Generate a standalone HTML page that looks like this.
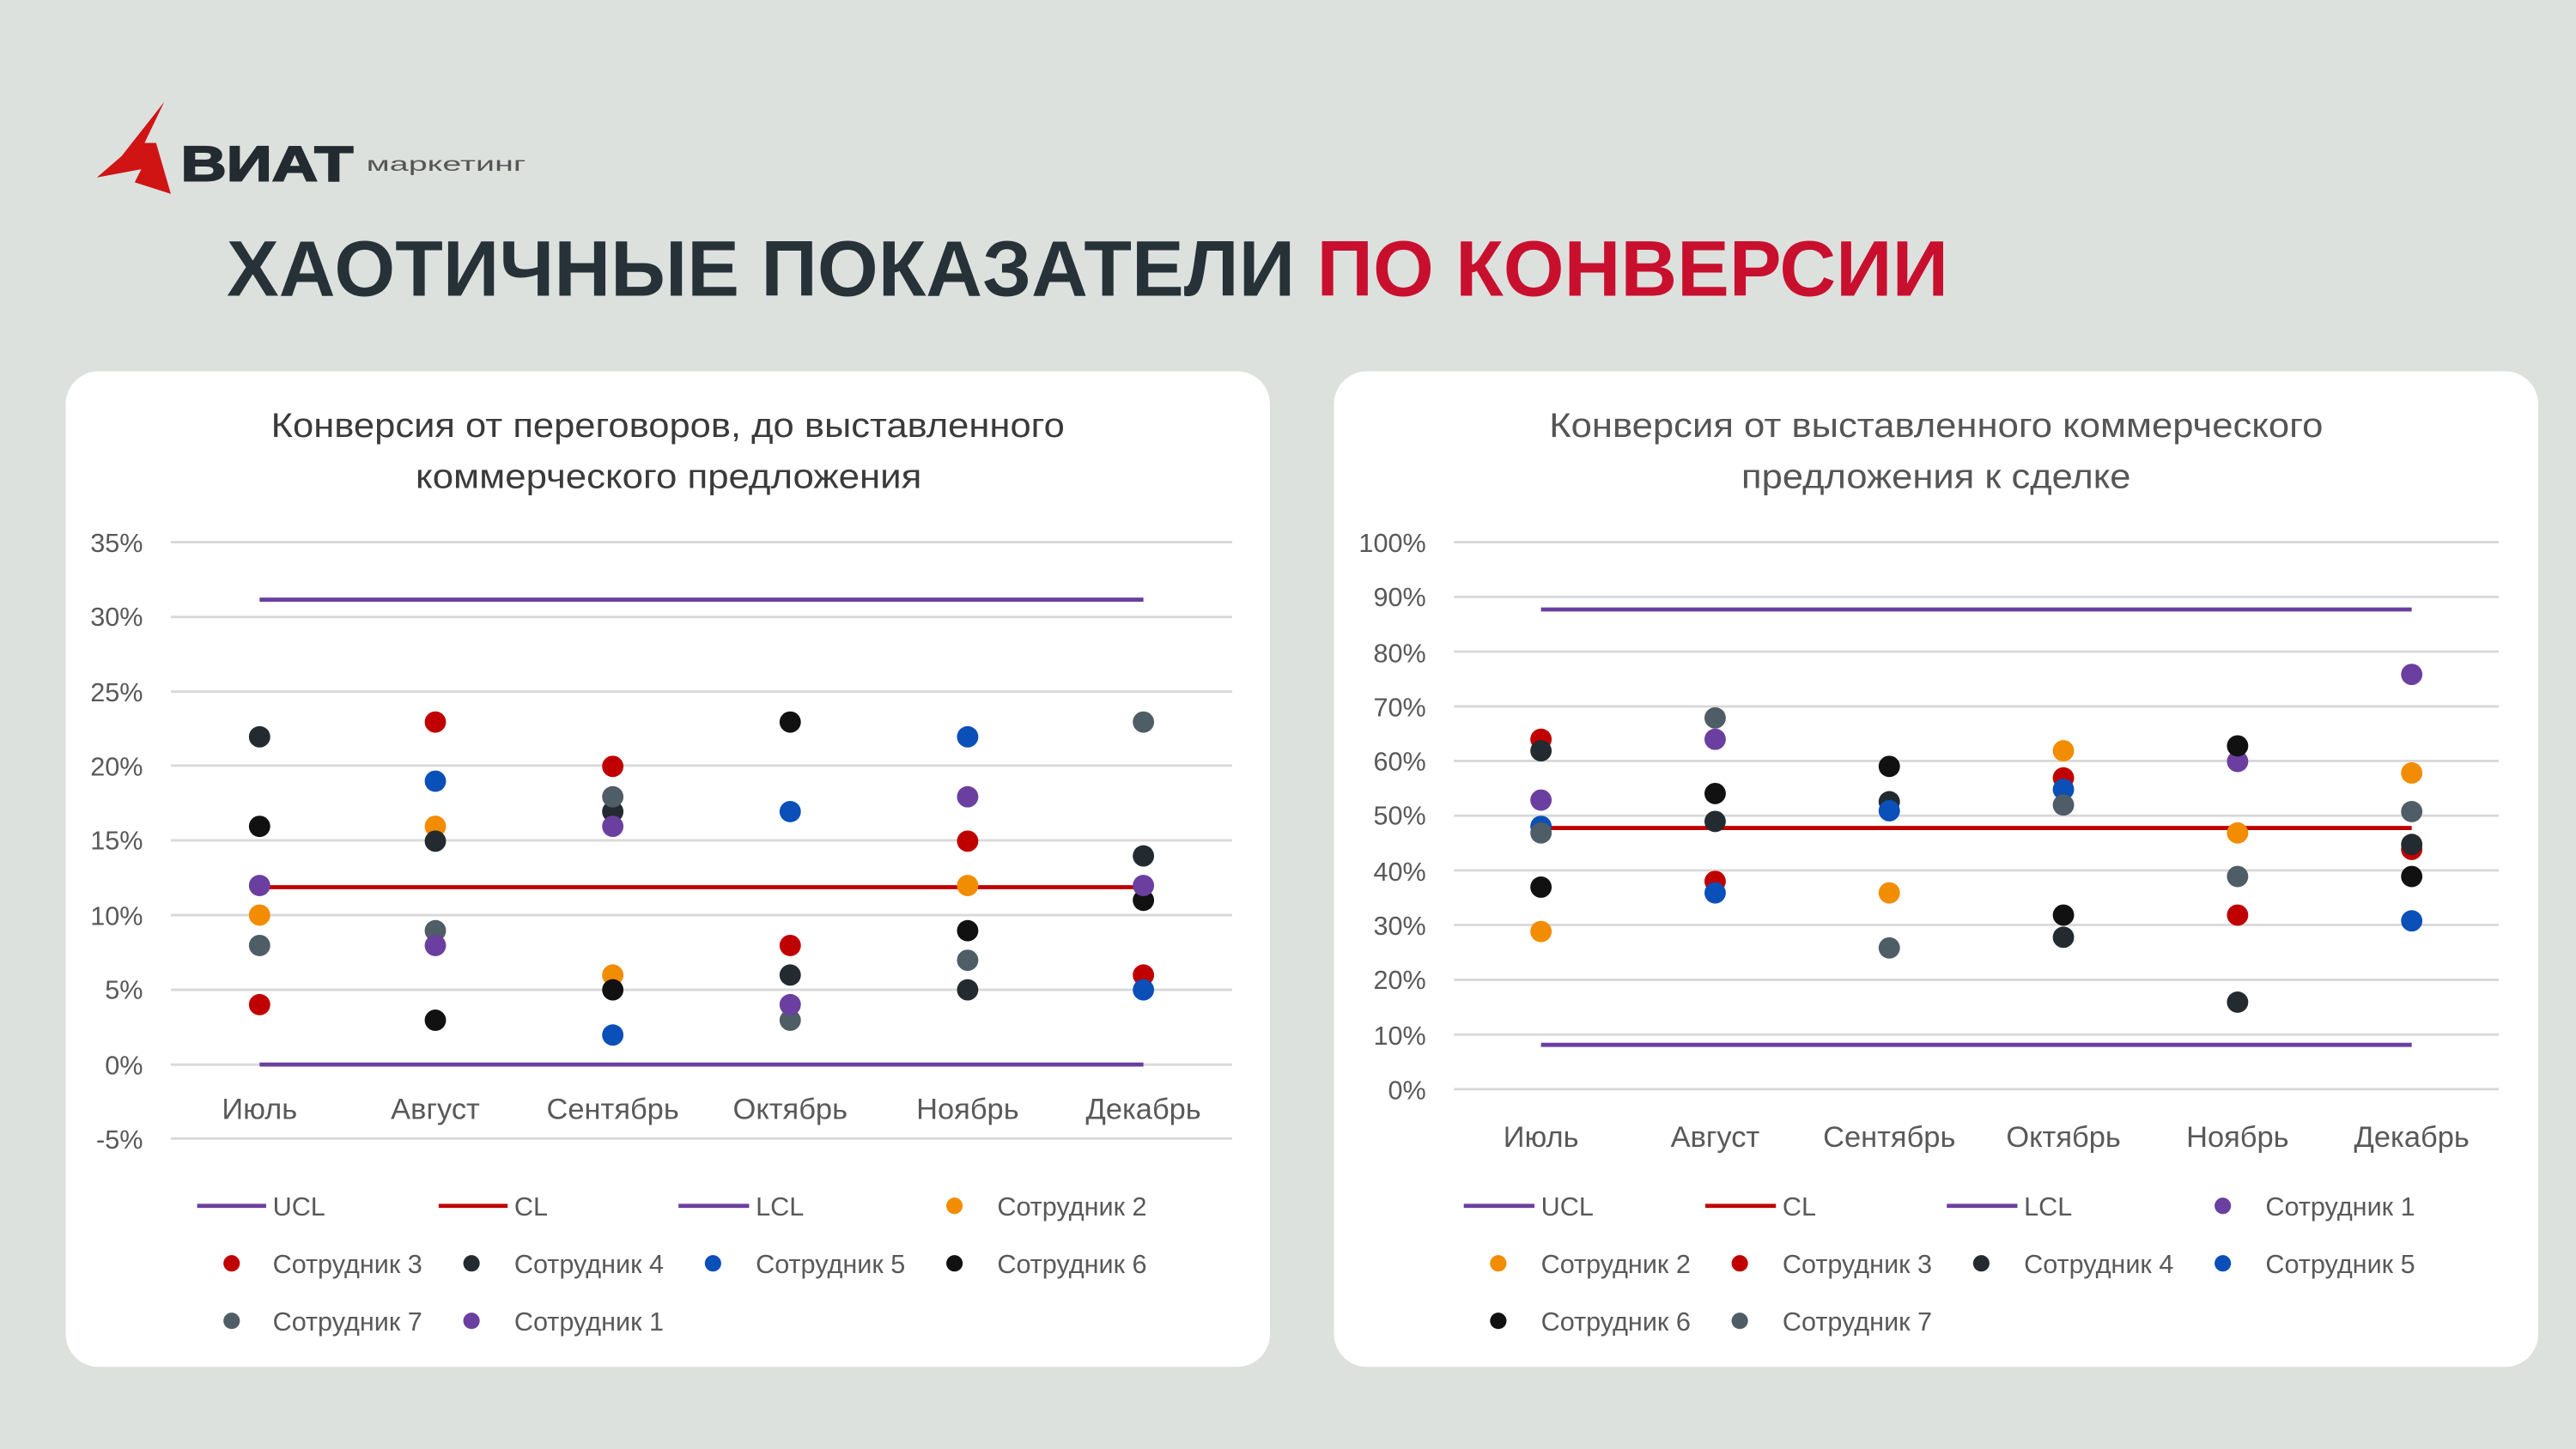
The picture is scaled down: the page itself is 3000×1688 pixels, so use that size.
<!DOCTYPE html>
<html><head><meta charset="utf-8"><style>
html,body{margin:0;padding:0;background:#dde1de;}
svg{display:block}
text{font-family:"Liberation Sans","DejaVu Sans",sans-serif;}
.ax{font-size:16px;fill:#595959}
.lg{font-size:16px;fill:#595959}
.tt{font-size:21px;fill:#3a3a3a}
.g{stroke:#d9d9d9;stroke-width:1.5}
.o{fill:#f28c00}.r{fill:#c00000}.b{fill:#0b4fb8}.p{fill:#6b3fa0}.s{fill:#4f5d66}.d{fill:#232b30}.k{fill:#111}
</style></head><body>
<svg width="3000" height="1688" viewBox="0 0 1568 882" preserveAspectRatio="none">
<rect width="1568" height="882" fill="#dde1de"/>
<polygon points="100,62 74,95 59,108 86,103 82,111 104,118 95,87 88,87" fill="#d01414"/>
<text x="110" y="110" font-size="30" font-weight="900" fill="#232b30" textLength="105" lengthAdjust="spacingAndGlyphs" stroke="#232b30" stroke-width="1">ВИАТ</text>
<text x="223" y="104" font-size="12" fill="#555" textLength="97" lengthAdjust="spacingAndGlyphs">маркетинг</text>
<text x="138" y="180" font-size="48" font-weight="bold" fill="#263238" textLength="1048" lengthAdjust="spacingAndGlyphs">ХАОТИЧНЫЕ ПОКАЗАТЕЛИ <tspan fill="#c8102e">ПО КОНВЕРСИИ</tspan></text>

<rect x="40" y="226" width="733" height="606" rx="20" fill="#fff"/>
<text class="tt" x="165" y="266" textLength="483" lengthAdjust="spacingAndGlyphs">Конверсия от переговоров, до выставленного</text>
<text class="tt" x="253" y="297" textLength="308" lengthAdjust="spacingAndGlyphs">коммерческого предложения</text>
<g class="g">
<line x1="104" x2="750" y1="330" y2="330"/><line x1="104" x2="750" y1="375.5" y2="375.5"/><line x1="104" x2="750" y1="421" y2="421"/><line x1="104" x2="750" y1="466" y2="466"/><line x1="104" x2="750" y1="511.5" y2="511.5"/><line x1="104" x2="750" y1="557" y2="557"/><line x1="104" x2="750" y1="602.5" y2="602.5"/><line x1="104" x2="750" y1="648" y2="648"/><line x1="104" x2="750" y1="693" y2="693"/>
</g>
<g class="ax" text-anchor="end">
<text x="87" y="336">35%</text><text x="87" y="381">30%</text><text x="87" y="427">25%</text><text x="87" y="472">20%</text><text x="87" y="517">15%</text><text x="87" y="563">10%</text><text x="87" y="608">5%</text><text x="87" y="654">0%</text><text x="87" y="699">-5%</text>
</g>
<g class="ax" text-anchor="middle" style="font-size:18px">
<text x="158" y="681">Июль</text><text x="265" y="681">Август</text><text x="373" y="681">Сентябрь</text><text x="481" y="681">Октябрь</text><text x="589" y="681">Ноябрь</text><text x="696" y="681">Декабрь</text>
</g>
<line x1="158" x2="696" y1="365" y2="365" stroke="#6b3fa0" stroke-width="2.5"/>
<line x1="158" x2="696" y1="540" y2="540" stroke="#c00000" stroke-width="2.5"/>
<line x1="158" x2="696" y1="648" y2="648" stroke="#6b3fa0" stroke-width="2.5"/>
<g>
<circle class="d" cx="158" cy="448.5" r="6.5"/><circle class="k" cx="158" cy="503" r="6.5"/><circle class="p" cx="158" cy="539" r="6.5"/><circle class="o" cx="158" cy="557" r="6.5"/><circle class="s" cx="158" cy="575.5" r="6.5"/><circle class="r" cx="158" cy="611.5" r="6.5"/>
<circle class="r" cx="265" cy="439.5" r="6.5"/><circle class="b" cx="265" cy="475.5" r="6.5"/><circle class="o" cx="265" cy="503" r="6.5"/><circle class="d" cx="265" cy="512" r="6.5"/><circle class="s" cx="265" cy="566.5" r="6.5"/><circle class="p" cx="265" cy="575.5" r="6.5"/><circle class="k" cx="265" cy="621" r="6.5"/>
<circle class="r" cx="373" cy="466.5" r="6.5"/><circle class="d" cx="373" cy="494" r="6.5"/><circle class="s" cx="373" cy="485" r="6.5"/><circle class="p" cx="373" cy="503" r="6.5"/><circle class="o" cx="373" cy="593.5" r="6.5"/><circle class="k" cx="373" cy="602.5" r="6.5"/><circle class="b" cx="373" cy="630" r="6.5"/>
<circle class="k" cx="481" cy="439.5" r="6.5"/><circle class="b" cx="481" cy="494" r="6.5"/><circle class="r" cx="481" cy="575.5" r="6.5"/><circle class="d" cx="481" cy="593.5" r="6.5"/><circle class="s" cx="481" cy="621" r="6.5"/><circle class="p" cx="481" cy="611.5" r="6.5"/>
<circle class="b" cx="589" cy="448.5" r="6.5"/><circle class="p" cx="589" cy="485" r="6.5"/><circle class="r" cx="589" cy="512" r="6.5"/><circle class="o" cx="589" cy="539" r="6.5"/><circle class="k" cx="589" cy="566.5" r="6.5"/><circle class="s" cx="589" cy="584.5" r="6.5"/><circle class="d" cx="589" cy="602.5" r="6.5"/>
<circle class="s" cx="696" cy="439.5" r="6.5"/><circle class="d" cx="696" cy="521" r="6.5"/><circle class="k" cx="696" cy="548" r="6.5"/><circle class="p" cx="696" cy="539" r="6.5"/><circle class="r" cx="696" cy="593.5" r="6.5"/><circle class="b" cx="696" cy="602.5" r="6.5"/>
</g>
<g class="lg">
<line x1="120" x2="162" y1="734" y2="734" stroke="#6b3fa0" stroke-width="2.5"/><text x="166" y="740">UCL</text>
<line x1="267" x2="309" y1="734" y2="734" stroke="#c00000" stroke-width="2.5"/><text x="313" y="740">CL</text>
<line x1="413" x2="456" y1="734" y2="734" stroke="#6b3fa0" stroke-width="2.5"/><text x="460" y="740">LCL</text>
<circle class="o" cx="581" cy="734" r="5"/><text x="607" y="740">Сотрудник 2</text>
<circle class="r" cx="141" cy="769" r="5"/><text x="166" y="775">Сотрудник 3</text>
<circle class="d" cx="287" cy="769" r="5"/><text x="313" y="775">Сотрудник 4</text>
<circle class="b" cx="434" cy="769" r="5"/><text x="460" y="775">Сотрудник 5</text>
<circle class="k" cx="581" cy="769" r="5"/><text x="607" y="775">Сотрудник 6</text>
<circle class="s" cx="141" cy="804" r="5"/><text x="166" y="810">Сотрудник 7</text>
<circle class="p" cx="287" cy="804" r="5"/><text x="313" y="810">Сотрудник 1</text>
</g>

<rect x="812" y="226" width="733" height="606" rx="20" fill="#fff"/>
<text class="tt" x="943" y="266" style="fill:#555" textLength="471" lengthAdjust="spacingAndGlyphs">Конверсия от выставленного коммерческого</text>
<text class="tt" x="1060" y="297" style="fill:#555" textLength="237" lengthAdjust="spacingAndGlyphs">предложения к сделке</text>
<g class="g">
<line x1="885" x2="1521" y1="330" y2="330"/><line x1="885" x2="1521" y1="363.3" y2="363.3"/><line x1="885" x2="1521" y1="396.6" y2="396.6"/><line x1="885" x2="1521" y1="430" y2="430"/><line x1="885" x2="1521" y1="463.2" y2="463.2"/><line x1="885" x2="1521" y1="496.5" y2="496.5"/><line x1="885" x2="1521" y1="529.8" y2="529.8"/><line x1="885" x2="1521" y1="563" y2="563"/><line x1="885" x2="1521" y1="596.4" y2="596.4"/><line x1="885" x2="1521" y1="629.7" y2="629.7"/><line x1="885" x2="1521" y1="663" y2="663"/>
</g>
<g class="ax" text-anchor="end">
<text x="868" y="336">100%</text><text x="868" y="369">90%</text><text x="868" y="403">80%</text><text x="868" y="436">70%</text><text x="868" y="469">60%</text><text x="868" y="502">50%</text><text x="868" y="536">40%</text><text x="868" y="569">30%</text><text x="868" y="602">20%</text><text x="868" y="636">10%</text><text x="868" y="669">0%</text>
</g>
<g class="ax" text-anchor="middle" style="font-size:18px">
<text x="938" y="698">Июль</text><text x="1044" y="698">Август</text><text x="1150" y="698">Сентябрь</text><text x="1256" y="698">Октябрь</text><text x="1362" y="698">Ноябрь</text><text x="1468" y="698">Декабрь</text>
</g>
<line x1="938" x2="1468" y1="371" y2="371" stroke="#6b3fa0" stroke-width="2.5"/>
<line x1="938" x2="1468" y1="504" y2="504" stroke="#c00000" stroke-width="2.5"/>
<line x1="938" x2="1468" y1="636" y2="636" stroke="#6b3fa0" stroke-width="2.5"/>
<g>
<circle class="r" cx="938" cy="450" r="6.5"/><circle class="d" cx="938" cy="457" r="6.5"/><circle class="p" cx="938" cy="487" r="6.5"/><circle class="b" cx="938" cy="503" r="6.5"/><circle class="s" cx="938" cy="507" r="6.5"/><circle class="k" cx="938" cy="540" r="6.5"/><circle class="o" cx="938" cy="567" r="6.5"/>
<circle class="s" cx="1044" cy="437" r="6.5"/><circle class="p" cx="1044" cy="450" r="6.5"/><circle class="k" cx="1044" cy="483" r="6.5"/><circle class="d" cx="1044" cy="500" r="6.5"/><circle class="r" cx="1044" cy="536.5" r="6.5"/><circle class="b" cx="1044" cy="543.5" r="6.5"/>
<circle class="k" cx="1150" cy="466.5" r="6.5"/><circle class="d" cx="1150" cy="488" r="6.5"/><circle class="b" cx="1150" cy="493.5" r="6.5"/><circle class="o" cx="1150" cy="543.5" r="6.5"/><circle class="s" cx="1150" cy="577" r="6.5"/>
<circle class="o" cx="1256" cy="457" r="6.5"/><circle class="r" cx="1256" cy="473.5" r="6.5"/><circle class="b" cx="1256" cy="480.5" r="6.5"/><circle class="s" cx="1256" cy="490" r="6.5"/><circle class="k" cx="1256" cy="557" r="6.5"/><circle class="d" cx="1256" cy="570.5" r="6.5"/>
<circle class="p" cx="1362" cy="463.5" r="6.5"/><circle class="k" cx="1362" cy="454" r="6.5"/><circle class="o" cx="1362" cy="507" r="6.5"/><circle class="s" cx="1362" cy="533.5" r="6.5"/><circle class="r" cx="1362" cy="557" r="6.5"/><circle class="d" cx="1362" cy="610" r="6.5"/>
<circle class="p" cx="1468" cy="410.5" r="6.5"/><circle class="o" cx="1468" cy="470.5" r="6.5"/><circle class="s" cx="1468" cy="494" r="6.5"/><circle class="r" cx="1468" cy="517" r="6.5"/><circle class="d" cx="1468" cy="514" r="6.5"/><circle class="k" cx="1468" cy="533.5" r="6.5"/><circle class="b" cx="1468" cy="560.5" r="6.5"/>
</g>
<g class="lg">
<line x1="891" x2="934" y1="734" y2="734" stroke="#6b3fa0" stroke-width="2.5"/><text x="938" y="740">UCL</text>
<line x1="1038" x2="1081" y1="734" y2="734" stroke="#c00000" stroke-width="2.5"/><text x="1085" y="740">CL</text>
<line x1="1185" x2="1228" y1="734" y2="734" stroke="#6b3fa0" stroke-width="2.5"/><text x="1232" y="740">LCL</text>
<circle class="p" cx="1353" cy="734" r="5"/><text x="1379" y="740">Сотрудник 1</text>
<circle class="o" cx="912" cy="769" r="5"/><text x="938" y="775">Сотрудник 2</text>
<circle class="r" cx="1059" cy="769" r="5"/><text x="1085" y="775">Сотрудник 3</text>
<circle class="d" cx="1206" cy="769" r="5"/><text x="1232" y="775">Сотрудник 4</text>
<circle class="b" cx="1353" cy="769" r="5"/><text x="1379" y="775">Сотрудник 5</text>
<circle class="k" cx="912" cy="804" r="5"/><text x="938" y="810">Сотрудник 6</text>
<circle class="s" cx="1059" cy="804" r="5"/><text x="1085" y="810">Сотрудник 7</text>
</g>
</svg>
</body></html>
